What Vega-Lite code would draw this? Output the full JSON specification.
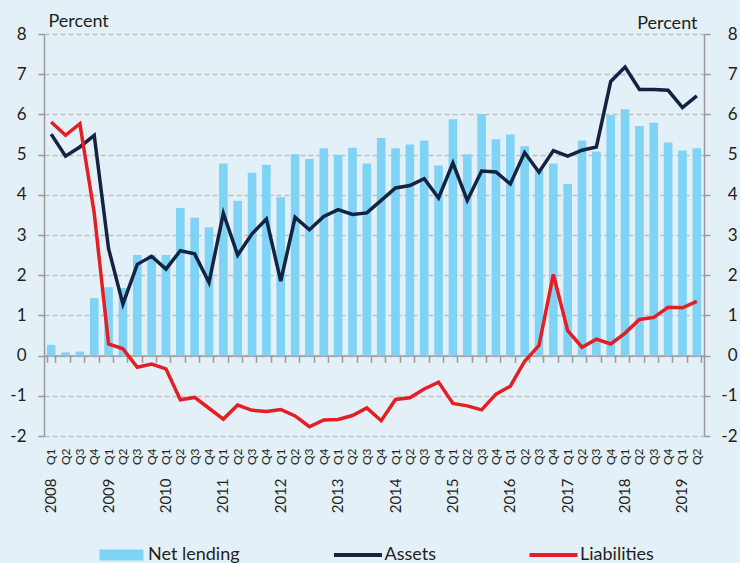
{
  "$schema": "https://vega.github.io/schema/vega-lite/v6.json",
  "width": 660,
  "height": 402,
  "autosize": {"type": "none"},
  "padding": {"left": 44, "top": 34, "right": 36, "bottom": 127},
  "background": "#E4F0F7",
  "config": {
    "view": {"stroke": null},
    "font": "Lato",
    "axis": {"labelFont": "Lato", "titleFont": "Lato", "labelColor": "#231F20", "titleColor": "#231F20", "titleFontWeight": "normal"},
    "legend": {"labelFont": "Lato", "labelColor": "#231F20"}
  },
  "data": {"values": [
    {"q": "2008 Q1", "Net lending": 0.27, "Assets": 5.51, "Liabilities": 5.81},
    {"q": "2008 Q2", "Net lending": 0.08, "Assets": 4.96, "Liabilities": 5.48},
    {"q": "2008 Q3", "Net lending": 0.10, "Assets": 5.19, "Liabilities": 5.77},
    {"q": "2008 Q4", "Net lending": 1.43, "Assets": 5.48, "Liabilities": 3.55},
    {"q": "2009 Q1", "Net lending": 1.70, "Assets": 2.66, "Liabilities": 0.29},
    {"q": "2009 Q2", "Net lending": 1.68, "Assets": 1.28, "Liabilities": 0.17},
    {"q": "2009 Q3", "Net lending": 2.50, "Assets": 2.27, "Liabilities": -0.29},
    {"q": "2009 Q4", "Net lending": 2.50, "Assets": 2.47, "Liabilities": -0.21},
    {"q": "2010 Q1", "Net lending": 2.50, "Assets": 2.15, "Liabilities": -0.33},
    {"q": "2010 Q2", "Net lending": 3.67, "Assets": 2.61, "Liabilities": -1.10},
    {"q": "2010 Q3", "Net lending": 3.43, "Assets": 2.53, "Liabilities": -1.04},
    {"q": "2010 Q4", "Net lending": 3.19, "Assets": 1.82, "Liabilities": -1.31},
    {"q": "2011 Q1", "Net lending": 4.78, "Assets": 3.54, "Liabilities": -1.58},
    {"q": "2011 Q2", "Net lending": 3.85, "Assets": 2.50, "Liabilities": -1.23},
    {"q": "2011 Q3", "Net lending": 4.55, "Assets": 3.03, "Liabilities": -1.36},
    {"q": "2011 Q4", "Net lending": 4.75, "Assets": 3.40, "Liabilities": -1.39},
    {"q": "2012 Q1", "Net lending": 3.94, "Assets": 1.85, "Liabilities": -1.34},
    {"q": "2012 Q2", "Net lending": 5.01, "Assets": 3.44, "Liabilities": -1.50},
    {"q": "2012 Q3", "Net lending": 4.89, "Assets": 3.13, "Liabilities": -1.77},
    {"q": "2012 Q4", "Net lending": 5.16, "Assets": 3.46, "Liabilities": -1.60},
    {"q": "2013 Q1", "Net lending": 4.99, "Assets": 3.63, "Liabilities": -1.59},
    {"q": "2013 Q2", "Net lending": 5.17, "Assets": 3.51, "Liabilities": -1.49},
    {"q": "2013 Q3", "Net lending": 4.78, "Assets": 3.55, "Liabilities": -1.30},
    {"q": "2013 Q4", "Net lending": 5.41, "Assets": 3.86, "Liabilities": -1.62},
    {"q": "2014 Q1", "Net lending": 5.16, "Assets": 4.17, "Liabilities": -1.09},
    {"q": "2014 Q2", "Net lending": 5.25, "Assets": 4.23, "Liabilities": -1.05},
    {"q": "2014 Q3", "Net lending": 5.35, "Assets": 4.40, "Liabilities": -0.83},
    {"q": "2014 Q4", "Net lending": 4.73, "Assets": 3.92, "Liabilities": -0.66},
    {"q": "2015 Q1", "Net lending": 5.88, "Assets": 4.79, "Liabilities": -1.19},
    {"q": "2015 Q2", "Net lending": 5.01, "Assets": 3.86, "Liabilities": -1.25},
    {"q": "2015 Q3", "Net lending": 6.01, "Assets": 4.59, "Liabilities": -1.35},
    {"q": "2015 Q4", "Net lending": 5.38, "Assets": 4.57, "Liabilities": -0.96},
    {"q": "2016 Q1", "Net lending": 5.50, "Assets": 4.27, "Liabilities": -0.76},
    {"q": "2016 Q2", "Net lending": 5.21, "Assets": 5.05, "Liabilities": -0.14},
    {"q": "2016 Q3", "Net lending": 4.60, "Assets": 4.56, "Liabilities": 0.25},
    {"q": "2016 Q4", "Net lending": 4.78, "Assets": 5.10, "Liabilities": 2.02},
    {"q": "2017 Q1", "Net lending": 4.27, "Assets": 4.96, "Liabilities": 0.62},
    {"q": "2017 Q2", "Net lending": 5.35, "Assets": 5.11, "Liabilities": 0.21},
    {"q": "2017 Q3", "Net lending": 5.08, "Assets": 5.19, "Liabilities": 0.41},
    {"q": "2017 Q4", "Net lending": 5.98, "Assets": 6.82, "Liabilities": 0.29},
    {"q": "2018 Q1", "Net lending": 6.13, "Assets": 7.18, "Liabilities": 0.56},
    {"q": "2018 Q2", "Net lending": 5.71, "Assets": 6.62, "Liabilities": 0.90},
    {"q": "2018 Q3", "Net lending": 5.79, "Assets": 6.62, "Liabilities": 0.95},
    {"q": "2018 Q4", "Net lending": 5.30, "Assets": 6.60, "Liabilities": 1.20},
    {"q": "2019 Q1", "Net lending": 5.10, "Assets": 6.17, "Liabilities": 1.19},
    {"q": "2019 Q2", "Net lending": 5.16, "Assets": 6.46, "Liabilities": 1.35}
  ]},
  "resolve": {"axis": {"x": "independent", "y": "independent"}},
  "layer": [
    {
      "transform": [{"fold": ["Net lending"], "as": ["series", "value"]}],
      "mark": {"type": "bar"},
      "encoding": {
        "x": {
          "field": "q", "type": "ordinal", "sort": null,
          "scale": {"paddingInner": 0.4, "paddingOuter": 0.2},
          "axis": {
            "orient": "bottom", "domain": false, "ticks": false, "tickSize": 0, "grid": false,
            "labelAngle": 270, "labelPadding": 12, "labelFontSize": 12, "labelOverlap": false, "labelBound": false,
            "labelExpr": "substring(datum.value, 5)", "title": null
          }
        },
        "y": {
          "field": "value", "type": "quantitative",
          "scale": {"domain": [-2, 8], "nice": false, "zero": false},
          "axis": {
            "orient": "left", "values": [-2, -1, 0, 1, 2, 3, 4, 5, 6, 7, 8],
            "grid": true, "gridDash": [5, 3], "gridColor": "#BEBEBE", "gridWidth": 1.5,
            "domainColor": "#9A9A9A", "domainWidth": 1.5, "tickColor": "#9A9A9A", "tickWidth": 1.5, "tickSize": 6,
            "labelFontSize": 17, "labelPadding": 12, "labelExpr": "'' + datum.value",
            "title": "Percent", "titleAngle": 0, "titleAlign": "left", "titleBaseline": "alphabetic",
            "titleX": 4, "titleY": -8, "titleFontSize": 18
          }
        },
        "color": {
          "field": "series", "type": "nominal",
          "scale": {"domain": ["Net lending", "Assets", "Liabilities"], "range": ["#7FD3F5", "#142342", "#E31E24"]},
          "legend": {
            "orient": "none", "legendX": 68.5, "legendY": 512, "direction": "horizontal", "title": null,
            "symbolSize": 2304, "labelFontSize": 18, "labelOffset": 17.5, "columnPadding": 85.5, "padding": 0,
            "encode": {
              "symbols": {"update": {
                "shape": {"signal": "datum.value === 'Net lending' ? 'M-0.917,-0.229H0.917V0.229H-0.917Z' : 'stroke'"},
                "strokeWidth": {"signal": "datum.value === 'Net lending' ? 0 : 4"},
                "fill": {"scale": "color", "field": "value"},
                "stroke": {"scale": "color", "field": "value"},
                "opacity": {"value": 1}
              }}
            }
          }
        }
      }
    },
    {
      "transform": [{"fold": ["Assets"], "as": ["series", "value"]}],
      "mark": {"type": "line", "strokeWidth": 3.5, "strokeJoin": "miter"},
      "encoding": {
        "x": {
          "field": "q", "type": "ordinal", "sort": null,
          "axis": {
            "orient": "bottom", "domain": false, "ticks": false, "tickSize": 0, "grid": false,
            "labelAngle": 270, "labelPadding": 42, "labelFontSize": 15, "labelOverlap": false, "labelBound": false,
            "labelExpr": "substring(datum.value, 5) === 'Q1' ? substring(datum.value, 0, 4) : ''", "title": null
          }
        },
        "y": {
          "field": "value", "type": "quantitative",
          "axis": {
            "orient": "right", "values": [-2, -1, 0, 1, 2, 3, 4, 5, 6, 7, 8], "grid": false,
            "domainColor": "#9A9A9A", "domainWidth": 1.5, "tickColor": "#9A9A9A", "tickWidth": 1.5, "tickSize": 6,
            "labelFontSize": 17, "labelPadding": 27, "labelAlign": "right", "labelExpr": "'' + datum.value",
            "title": "Percent", "titleAngle": 0, "titleAlign": "right", "titleBaseline": "alphabetic",
            "titleX": -7, "titleY": -6, "titleFontSize": 18
          }
        },
        "color": {"field": "series", "type": "nominal"}
      }
    },
    {
      "transform": [{"fold": ["Liabilities"], "as": ["series", "value"]}],
      "mark": {"type": "line", "strokeWidth": 3.5, "strokeJoin": "miter"},
      "encoding": {
        "x": {
          "field": "q", "type": "ordinal", "sort": null,
          "axis": {
            "orient": "bottom", "offset": -80.6, "domain": true, "domainColor": "#9A9A9A", "domainWidth": 1.5,
            "ticks": true, "tickBand": "extent", "tickColor": "#9A9A9A", "tickWidth": 1.5, "tickSize": 7,
            "labels": false, "grid": false, "title": null
          }
        },
        "y": {"field": "value", "type": "quantitative", "axis": null},
        "color": {"field": "series", "type": "nominal"}
      }
    }
  ]
}
